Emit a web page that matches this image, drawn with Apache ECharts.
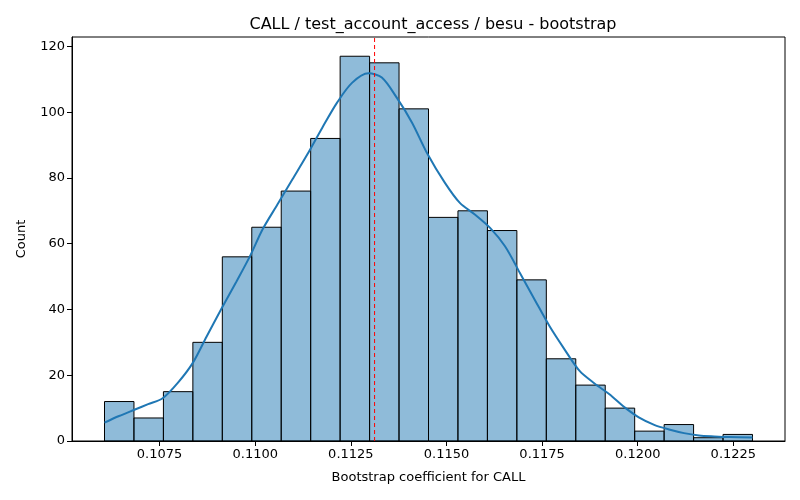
<!DOCTYPE html>
<html>
<head>
<meta charset="utf-8">
<script src="https://cdn.jsdelivr.net/npm/echarts@6/dist/echarts.min.js"></script>
<style>
  html, body { margin: 0; padding: 0; background: #fff; }
  #chart { width: 800px; height: 500px; }
</style>
</head>
<body>
<div id="chart"></div>
<script>
// Histogram: 22 equal bins
const binStart = 0.10606;
const binWidth = 0.00077;
const counts = [12, 7, 15, 30, 56, 65, 76, 92, 117, 115, 101, 68, 70, 64, 49, 25, 17, 10, 3, 5, 1, 2];

// KDE curve (x value, count scale)
const kdeX = [0.10606, 0.10644, 0.10684, 0.10720, 0.10758, 0.10797, 0.10836, 0.10873, 0.10912, 0.10951,
  0.10988, 0.11019, 0.11058, 0.11097, 0.11136, 0.11175, 0.11214, 0.11253, 0.11296, 0.11331,
  0.11370, 0.11410, 0.11449, 0.11496, 0.11535, 0.11575, 0.11614, 0.11653, 0.11692, 0.11731,
  0.11770, 0.11809, 0.11848, 0.11887, 0.11926, 0.11965, 0.12004, 0.12043, 0.12082, 0.12121,
  0.12160, 0.12200, 0.12239, 0.12300];
const kdeY = [5.6, 7.6, 9.5, 11.2, 13.0, 17.6, 23.6, 31.8, 40.3, 48.5,
  56.6, 64.3, 71.9, 79.5, 87.1, 95.2, 102.9, 108.9, 111.8, 110.5,
  104.4, 96.8, 87.6, 78.5, 72.4, 68.8, 64.8, 59.2, 51.1, 42.9,
  34.8, 27.8, 21.3, 17.5, 14.2, 10.3, 7.1, 4.9, 3.5, 2.4,
  1.7, 1.4, 1.2, 1.1];

// Bootstrap mean marker
const meanValue = 0.11312;

const xTicks = [0.1075, 0.1100, 0.1125, 0.1150, 0.1175, 0.1200, 0.1225];
const yTicks = [0, 20, 40, 60, 80, 100, 120];
const yMax = 122.85;

document.addEventListener('DOMContentLoaded', () => {
  const chart = echarts.init(document.getElementById('chart'));

  const histData = counts.map((c, i) => [binStart + i * binWidth, binStart + (i + 1) * binWidth, c]);
  const kdeData = kdeX.map((x, i) => [x, kdeY[i]]);

  const font = 'DejaVu Sans';

  const option = {
    animation: false,
    backgroundColor: '#fff',
    textStyle: { fontFamily: font },
    title: {
      text: 'CALL / test_account_access / besu - bootstrap',
      left: 428,
      top: 12,
      textAlign: 'center',
      textStyle: { fontFamily: font, fontSize: 16, fontWeight: 'normal', color: '#000' }
    },
    grid: { left: 72, right: 15, top: 37, bottom: 59, show: true, borderColor: '#000', borderWidth: 1 },
    xAxis: {
      type: 'value',
      min: 0.10521,
      max: 0.12385,
      name: 'Bootstrap coefficient for CALL',
      nameLocation: 'middle',
      nameGap: 30,
      nameTextStyle: { fontFamily: font, fontSize: 13, color: '#000' },
      axisLine: { show: true, onZero: false, lineStyle: { color: '#000', width: 1 } },
      axisTick: { show: true, length: 5, lineStyle: { color: '#000' }, customValues: xTicks },
      axisLabel: {
        color: '#000', fontSize: 13, fontFamily: font, margin: 7,
        customValues: xTicks,
        formatter: v => v.toFixed(4)
      },
      splitLine: { show: false }
    },
    yAxis: {
      type: 'value',
      min: 0,
      max: yMax,
      name: 'Count',
      nameLocation: 'middle',
      nameGap: 44,
      nameTextStyle: { fontFamily: font, fontSize: 13, color: '#000' },
      axisLine: { show: true, lineStyle: { color: '#000', width: 1 } },
      axisTick: { show: true, length: 5, lineStyle: { color: '#000' }, customValues: yTicks },
      axisLabel: { color: '#000', fontSize: 13, fontFamily: font, margin: 7, customValues: yTicks },
      splitLine: { show: false }
    },
    series: [
      {
        name: 'hist',
        type: 'custom',
        data: histData,
        encode: { x: [0, 1], y: 2 },
        renderItem: function (params, api) {
          const p0 = api.coord([api.value(0), api.value(2)]);
          const p1 = api.coord([api.value(1), 0]);
          return {
            type: 'rect',
            shape: { x: p0[0], y: p0[1], width: p1[0] - p0[0], height: p1[1] - p0[1] },
            style: { fill: 'rgba(31,119,180,0.5)', stroke: '#000', lineWidth: 1 }
          };
        }
      },
      {
        name: 'kde',
        type: 'line',
        data: kdeData,
        smooth: 0.3,
        showSymbol: false,
        lineStyle: { color: '#1f77b4', width: 2 },
        z: 3
      },
      {
        name: 'mean',
        type: 'line',
        data: [[meanValue, 0], [meanValue, yMax]],
        showSymbol: false,
        lineStyle: { color: '#ff0000', type: [4, 3], width: 1 },
        z: 4
      }
    ]
  };

  chart.setOption(option);
  window.addEventListener('resize', () => chart.resize());
});
</script>
</body>
</html>
